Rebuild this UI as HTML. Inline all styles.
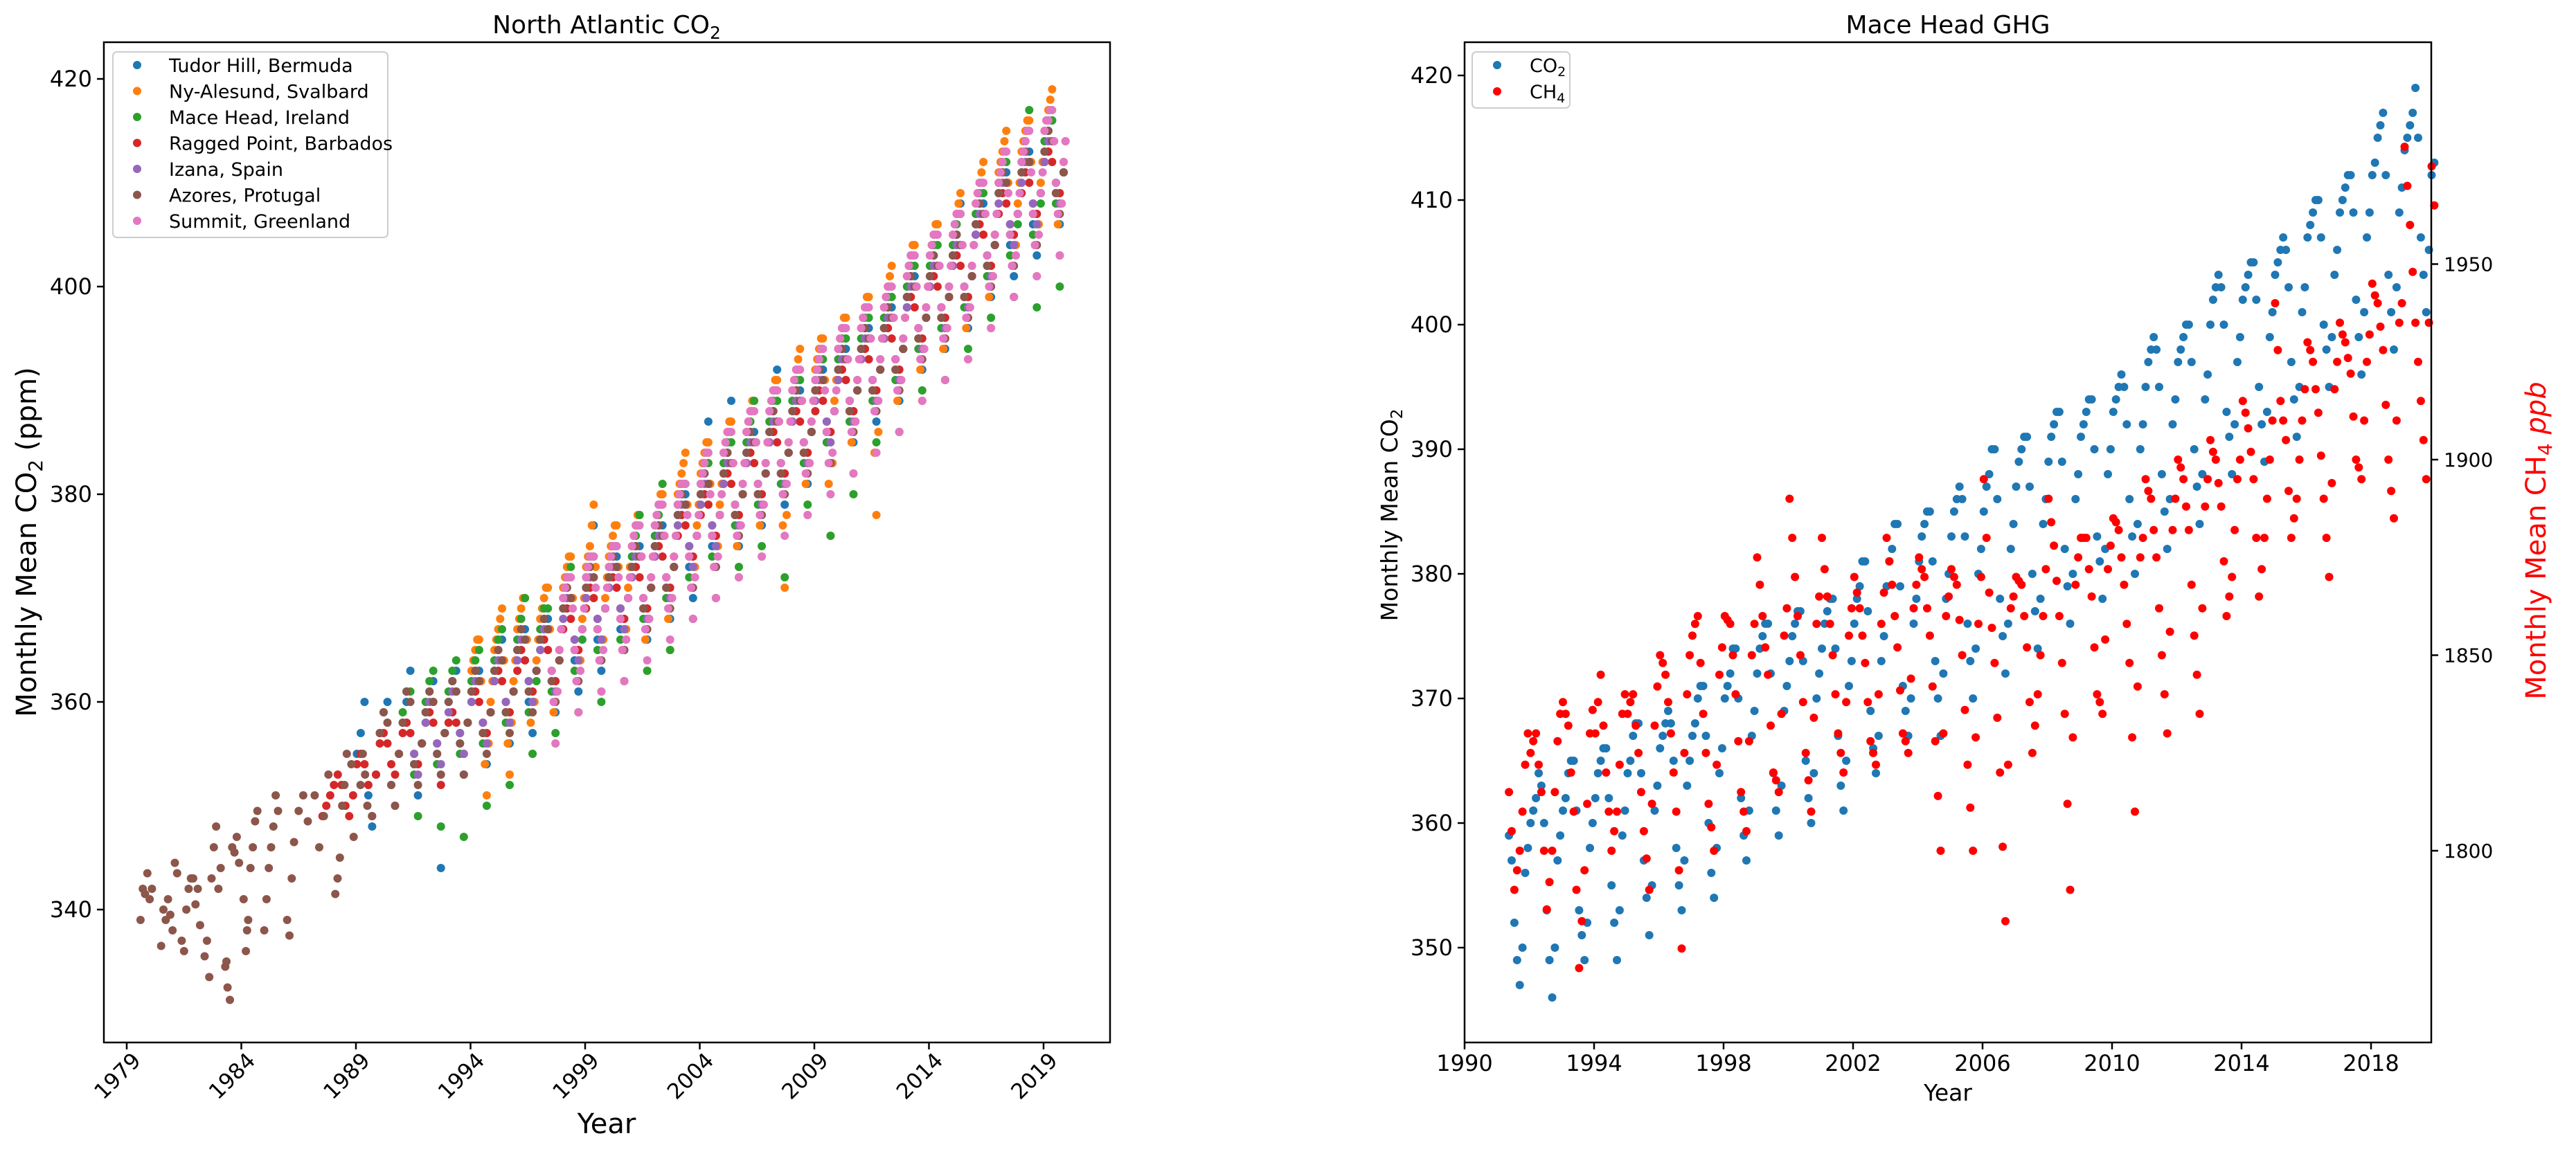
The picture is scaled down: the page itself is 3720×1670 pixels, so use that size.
<!DOCTYPE html>
<html><head><meta charset="utf-8"><style>
html,body{margin:0;padding:0;background:#fff;}
svg text{font-family:"DejaVu Sans","Liberation Sans",sans-serif;fill:#000;}
</style></head><body>
<svg id="fig" width="3720" height="1665" viewBox="0 0 3720 1665" xmlns="http://www.w3.org/2000/svg">
<rect x="0" y="0" width="3720" height="1665" fill="#fff"/>
<g id="left">
<text x="876" y="48" font-size="36" text-anchor="middle">North Atlantic CO<tspan font-size="25" dy="8">2</tspan></text>
<text transform="translate(52,783) rotate(-90)" font-size="40" text-anchor="middle">Monthly Mean CO<tspan font-size="28" dy="9">2</tspan><tspan dy="-9"> (ppm)</tspan></text>
<text x="876" y="1637" font-size="40" text-anchor="middle">Year</text>
<g id="leftDots"></g>
<g id="leftAxes"></g>
<g>
<rect x="163" y="75" width="397" height="268" rx="6" fill="#fff" fill-opacity="0.85" stroke="#ccc" stroke-width="2"/>
<g id="leftLegend"></g>
</g>
</g>
<g id="right">
<text x="2813" y="48" font-size="36" text-anchor="middle">Mace Head GHG</text>
<text transform="translate(2018,744) rotate(-90)" font-size="33" text-anchor="middle">Monthly Mean CO<tspan font-size="23" dy="7">2</tspan></text>
<text transform="translate(3676,781) rotate(-90)" font-size="40" text-anchor="middle" style="fill:#ff0000">Monthly Mean CH<tspan font-size="28" dy="9" style="fill:#ff0000">4</tspan><tspan dy="-9" style="fill:#ff0000"> </tspan><tspan font-style="italic" style="fill:#ff0000">ppb</tspan></text>
<text x="2813" y="1590" font-size="33" text-anchor="middle">Year</text>
<g id="rightDots"></g>
<g id="rightAxes"></g>
<g>
<rect x="2126" y="75" width="141" height="81" rx="6" fill="#fff" fill-opacity="0.85" stroke="#ccc" stroke-width="2"/>
<circle cx="2162" cy="94" r="6" fill="#1f77b4"/>
<text x="2209" y="104" font-size="27">CO<tspan font-size="19" dy="6">2</tspan></text>
<circle cx="2162" cy="132" r="6" fill="#ff0000"/>
<text x="2209" y="142" font-size="27">CH<tspan font-size="19" dy="6">4</tspan></text>
</g>
</g>
</svg>
<script>
// ---------- LEFT CHART DATA (bi-monthly values, 6 per year) ----------
const leftXTicks = [1979,1984,1989,1994,1999,2004,2009,2014,2019];
const leftYTicks = [340,360,380,400,420];
const siteNames = ["Tudor Hill, Bermuda","Ny-Alesund, Svalbard","Mace Head, Ireland","Ragged Point, Barbados","Izana, Spain","Azores, Protugal","Summit, Greenland"];
const siteColors = ["#1f77b4","#ff7f0e","#2ca02c","#d62728","#9467bd","#8c564b","#e377c2"];

const tudorStart = 1989;
const tudorVals = [355,357,360,351,348,353, 357,359,360,352,350,355, 358,360,363,354,351,356, 359,361,362,355,344,357, 360,362,363,356,353,358, 361,363,363,357,354,359, 363,365,366,359,356,361, 365,367,367,360,357,363, 366,368,368,362,359,364, 369,371,370,364,361,367, 371,373,377,366,363,369, 372,374,374,367,365,370, 373,375,375,369,366,371, 375,377,377,371,368,373, 378,380,380,373,370,376, 380,382,387,375,373,378, 382,384,389,378,375,380, 384,386,386,380,377,382, 386,388,392,382,379,384, 388,390,390,384,381,386, 390,392,392,385,383,388, 392,394,394,388,385,390, 394,396,396,390,387,392, 396,398,398,392,389,394, 399,401,401,395,392,397, 401,403,406,397,394,399, 403,405,408,399,396,401, 406,408,408,402,399,404, 409,411,411,404,401,407, 411,413,413,406,403,409, 413,415,416,409,406,411];

const nyStart = 1994;
const nyVals = [363,365,366,357,351,360, 365,367,369,359,353,362, 367,369,370,361,355,364, 368,370,371,362,356,365, 371,373,374,365,359,368, 373,375,379,367,361,370, 374,376,377,368,362,371, 375,377,378,369,363,372, 377,379,380,371,365,374, 380,382,384,374,368,377, 382,384,385,376,370,379, 384,386,387,378,372,381, 386,388,389,380,374,383, 388,390,391,382,371,385, 390,392,394,384,378,387, 392,394,395,386,376,389, 394,396,397,388,382,391, 396,398,399,390,378,393, 398,400,402,392,386,395, 401,403,404,395,389,398, 403,405,406,397,391,400, 405,407,409,399,393,402, 408,410,412,402,396,405, 411,413,415,405,399,408, 413,415,416,407,401,410, 415,417,419,409,403,412];
const nyVals2 = [364,366,362,354,356,362, 366,368,364,356,358,364, 368,370,366,358,360,366, 369,371,367,359,361,367, 372,374,370,362,364,370, 374,377,373,364,366,372, 375,377,373,365,367,373, 376,378,374,366,368,374, 378,380,376,368,370,376, 381,383,379,371,373,379, 383,385,381,373,375,381, 385,387,383,375,377,383, 387,389,385,377,379,385, 389,391,387,377,378,387, 391,393,389,381,383,389, 393,395,391,381,383,391, 395,397,393,385,387,393, 397,399,395,384,386,395, 399,401,397,389,391,397, 402,404,400,392,394,400, 404,406,402,394,396,402, 406,408,404,396,398,404, 409,411,407,399,401,407, 412,414,410,402,404,410, 414,416,412,404,406,412, 416,418,414,406,408,414];

const maceStart = 1991;
const maceVals = [359,361,361,353,349,356, 360,362,363,354,348,357, 361,363,364,355,347,358, 362,364,365,356,350,359, 364,366,367,358,352,361, 366,368,370,359,355,362, 367,369,369,361,357,364, 370,372,373,363,359,366, 372,374,374,365,360,369, 373,375,375,366,362,370, 374,376,378,368,363,371, 376,378,381,370,365,373, 379,381,381,372,368,376, 381,383,383,374,370,378, 383,385,385,377,373,380, 385,387,389,379,375,382, 387,389,389,381,372,384, 389,391,391,383,379,386, 391,393,393,385,376,388, 393,395,395,387,380,390, 395,397,397,389,385,392, 397,399,399,391,386,394, 400,402,402,394,390,397, 402,404,404,396,391,399, 404,406,407,398,394,401, 407,409,409,401,397,404, 410,412,412,403,399,406, 412,414,417,405,398,408, 414,416,416,408,400,411];

const raggedStart = 1987.5;
const raggedVals = [349,350,351, 352,353,352,350,349,351, 354,355,354,352,349,353, 356,357,356,354,353,355, 357,358,357,355,354,356, 358,359,358,356,352,357, 358,359,358,357,355,358, 360,361,360,358,357,359, 362,363,362,360,359,361, 363,365,364,362,361,363, 365,366,365,363,362,364, 367,369,368,366,365,367, 369,371,370,368,366,369, 371,372,371,369,368,370, 372,373,372,370,369,371, 374,375,374,372,371,373, 376,378,377,375,374,376, 378,380,379,377,376,378, 381,382,381,379,378,380, 383,384,383,381,380,382, 385,386,385,383,382,384, 387,388,387,385,384,386, 388,390,389,387,386,388, 391,392,391,389,388,390, 393,394,393,391,390,392, 395,396,395,393,392,394, 398,399,398,396,395,397, 400,401,400,398,397,399, 402,403,402,400,399,401, 405,406,405,403,402,404, 407,409,408,406,405,407, 409,411,410,408,407,409, 412,413,412,410,409,411];

const izanaStart = 1991.5;
const izanaVals = [355,353,356, 358,360,360,356,354,357, 359,361,361,357,355,358, 360,362,362,358,356,359, 362,364,364,360,358,361, 364,366,366,362,360,363, 365,367,367,363,361,364, 368,370,370,366,364,367, 370,372,372,368,366,369, 371,373,373,369,367,370, 372,374,374,370,368,371, 374,376,376,372,370,373, 377,379,379,375,373,376, 379,381,381,377,375,378, 381,383,383,379,377,380, 383,385,385,381,379,382, 385,387,387,383,381,384, 387,389,389,385,383,386, 389,391,391,387,385,388, 391,393,393,389,387,390, 393,395,395,391,389,392, 395,397,397,393,391,394, 398,400,400,396,394,397, 400,402,402,398,396,399, 402,404,404,400,398,401, 405,407,407,403,401,404, 408,410,410,406,404,407, 410,412,412,408,406,409, 412,414,414,410,408,411];

const azoresEarlyYears = [1979.6,1979.7,1979.8,1979.9,1980.0,1980.1,1980.5,1980.6,1980.7,1980.8,1980.9,1981.0,1981.1,1981.2,1981.4,1981.5,1981.6,1981.7,1981.8,1981.9,1982.0,1982.1,1982.2,1982.4,1982.5,1982.6,1982.7,1982.8,1982.9,1983.0,1983.1,1983.3,1983.35,1983.4,1983.5,1983.6,1983.7,1983.8,1983.9,1984.1,1984.2,1984.25,1984.3,1984.4,1984.5,1984.6,1984.7,1985.0,1985.1,1985.2,1985.3,1985.4,1985.5,1985.6,1986.0,1986.1,1986.2,1986.3,1986.5,1986.7,1986.9,1987.2,1987.4,1987.6,1987.8,1988.1,1988.2,1988.3,1988.4,1988.5,1988.6,1988.8,1988.9,1989.2,1989.3,1989.4,1989.5,1989.7];
const azoresEarlyVals = [339,342,341.5,343.5,341,342,336.5,340,339,341,339.5,338,344.5,343.5,337,336,340,342,343,343,340.5,342,338.5,335.5,337,333.5,343,346,348,342,344,334.5,335,332.5,331.3,346,345.5,347,344.5,341,336,338,339,344,346,348.5,349.5,338,341,344,346,348,351,349.5,339,337.5,343,346.5,349.5,351,348.5,351,346,349,353,341.5,343,345,350,352,355,354,347,352,355,353,350,349];
const azoresStart = 1990;
const azoresVals = [357,359,358,352,350,355, 358,361,360,354,352,356, 359,361,360,355,353,357, 360,362,361,356,353,358, 361,363,362,357,355,359, 363,365,364,359,357,361, 365,367,366,361,359,363, 366,368,367,362,360,364, 369,371,370,365,362,367, 371,373,372,367,364,369, 372,374,373,368,365,370, 373,375,374,369,367,371, 375,377,376,371,369,373, 378,380,379,374,371,376, 380,382,381,376,373,378, 382,384,383,378,376,380, 384,386,385,380,378,382, 386,388,387,382,380,384, 388,390,389,384,382,386, 390,392,391,386,383,388, 392,394,393,388,386,390, 394,396,395,390,388,392, 396,398,397,392,390,394, 399,401,400,395,393,397, 401,403,402,397,395,399, 403,405,404,399,397,401, 406,408,407,402,400,404, 409,411,410,405,402,407, 411,413,412,407,404,409, 413,415,414,409,407,411];

const summitStart = 1997.5;
const summitVals = [363,356,365, 370,372,372,365,359,367, 372,374,374,367,361,369, 373,375,375,368,362,370, 375,377,377,370,364,372, 377,379,379,372,366,374, 379,381,381,374,368,376, 381,383,384,376,370,378, 384,386,386,379,372,381, 386,388,388,381,374,383, 388,390,390,383,376,385, 390,392,392,385,378,387, 391,393,394,386,380,388, 394,396,396,389,382,391, 396,398,398,391,384,393, 398,400,400,393,386,395, 401,403,403,396,389,398, 403,405,405,398,391,400, 405,407,407,400,393,402, 408,410,410,403,396,405, 410,412,413,405,399,407, 412,414,415,407,401,409, 415,416,417,410,403,412];
const summitVals2 = [360,361,367, 371,372,369,362,363,369, 373,374,371,364,365,371, 374,375,372,365,366,372, 376,377,374,367,368,374, 378,379,376,369,370,376, 380,381,378,371,372,378, 382,384,380,373,374,380, 385,386,383,376,377,383, 387,388,385,378,379,385, 389,390,387,380,381,387, 391,392,389,382,383,389, 392,394,390,383,384,390, 395,396,393,386,387,393, 397,398,395,388,389,395, 399,400,397,390,391,397, 402,403,400,393,394,400, 404,405,402,395,396,402, 406,407,404,397,398,404, 409,410,407,400,401,407, 411,413,409,402,403,409, 413,415,411,404,405,411, 416,417,414,407,408,414];

// ---------- RIGHT CHART DATA ----------
const rightXTicks = [1990,1994,1998,2002,2006,2010,2014,2018];
const rightCO2Ticks = [350,360,370,380,390,400,410,420];
const rightCH4Ticks = [1800,1850,1900,1950];
const mhStart = 1991.33;
const mhCO2Vals = [359,352,347,356, 360,362,363,353,346,357, 361,364,365,353,349,358, 362,365,366,355,349,359, 364,367,368,357,351,361, 366,368,368,358,353,363, 367,370,371,360,354,364, 370,372,374,362,357,367, 372,375,376,364,359,369, 373,376,377,365,360,370, 374,377,378,367,361,371, 376,379,381,369,364,373, 379,382,384,371,367,376, 381,384,385,373,367,378, 383,386,386,376,370,380, 385,388,390,378,372,382, 387,390,391,380,374,384, 389,392,393,382,376,386, 391,393,394,383,378,388, 393,395,395,386,380,390, 395,398,398,388,382,392, 397,399,400,390,384,394, 400,403,403,393,388,397, 402,404,405,395,389,399, 404,406,406,397,391,401, 407,409,410,400,395,404, 409,411,412,402,396,407, 412,415,417,404,398,409, 414,416,419,407,401,412];
const mhCO2Vals2 = [357,349,350,358, 361,364,360,349,350,359, 362,365,361,351,352,360, 364,366,362,352,353,361, 365,368,364,354,355,363, 367,369,365,355,357,365, 368,371,367,356,358,366, 371,374,370,359,361,369, 374,376,372,361,363,371, 375,377,373,362,364,372, 376,378,374,363,365,373, 378,381,377,366,367,375, 381,384,379,369,370,378, 383,385,381,370,372,380, 385,387,383,373,374,382, 387,390,386,375,376,384, 389,391,387,377,378,386, 391,393,389,379,380,388, 392,394,390,381,382,390, 394,396,392,383,384,392, 397,399,395,385,386,394, 398,400,397,387,388,396, 402,404,400,391,392,399, 403,405,402,392,393,401, 405,407,403,394,395,403, 408,410,407,398,399,406, 410,412,409,399,401,409, 413,416,412,401,403,411, 415,417,415,404,406,413];
const mhCH4Vals = [1815,1790,1800,1822, 1825,1830,1815,1785,1800,1828, 1838,1832,1810,1770,1795,1830, 1830,1845,1820,1800,1810,1835, 1835,1840,1825,1805,1790,1832, 1850,1845,1830,1810,1775,1840, 1855,1860,1835,1812,1800,1845, 1860,1858,1840,1815,1805,1850, 1875,1860,1845,1820,1815,1855, 1890,1870,1850,1825,1810,1858, 1880,1865,1850,1830,1820,1855, 1870,1862,1848,1828,1822,1858, 1880,1868,1852,1830,1825,1862, 1875,1870,1855,1828,1800,1860, 1872,1868,1850,1822,1800,1858, 1895,1866,1848,1820,1782,1862, 1870,1868,1852,1825,1840,1860, 1890,1878,1860,1835,1790,1868, 1880,1880,1865,1840,1835,1872, 1885,1882,1868,1848,1810,1875, 1895,1890,1875,1850,1830,1882, 1900,1895,1882,1855,1835,1888, 1905,1900,1888,1860,1870,1895, 1915,1908,1895,1865,1880,1900, 1940,1915,1905,1880,1890,1910, 1930,1925,1912,1890,1870,1918, 1935,1930,1922,1900,1895,1925, 1945,1940,1928,1900,1885,1935, 1980,1960,1935,1915,1895,1975];
const mhCH4Vals2 = [1805,1795,1810,1830, 1828,1822,1800,1792,1815,1835, 1835,1820,1790,1782,1812,1836, 1838,1832,1810,1805,1822,1840, 1838,1832,1815,1798,1812,1842, 1848,1838,1820,1795,1825,1850, 1858,1848,1825,1806,1822,1852, 1859,1850,1828,1810,1828,1858, 1868,1852,1832,1818,1835,1862, 1880,1860,1838,1818,1834,1865, 1872,1858,1840,1825,1838,1862, 1866,1855,1838,1825,1840,1866, 1874,1860,1841,1828,1844,1868, 1872,1862,1842,1814,1830,1865, 1870,1859,1836,1811,1829,1870, 1880,1857,1834,1801,1822,1865, 1869,1860,1838,1832,1850,1872, 1884,1869,1848,1812,1829,1875, 1880,1872,1852,1838,1854,1878, 1884,1875,1858,1829,1842,1880, 1892,1882,1862,1840,1856,1890, 1898,1888,1868,1845,1862,1895, 1902,1894,1874,1865,1882,1900, 1912,1902,1880,1872,1890,1910, 1928,1910,1892,1885,1900,1918, 1928,1918,1901,1880,1894,1925, 1932,1926,1911,1898,1910,1932, 1942,1934,1914,1892,1910,1940, 1970,1948,1925,1905,1935,1965];

// ---------- SCALES ----------
const NS = "http://www.w3.org/2000/svg";
function xL(yr){ return 183 + (yr - 1979) * 33.1; }
function yL(v){ return 1314 - (v - 340) * 15; }
function xR(yr){ return 2115 + (yr - 1990) * 46.75; }
function yR(v){ return 1369 - (v - 350) * 18; }
function yC(v){ return 1229 - (v - 1800) * 5.65; }
function mk(tag, attrs, parent){ const e=document.createElementNS(NS,tag); for(const k in attrs) e.setAttribute(k,attrs[k]); parent.appendChild(e); return e; }

function drawSeries(g, start, vals, color, xf, yf, name, off){
  const o = off || 0;
  vals.forEach((v,i)=>{
    const t = start + i/6 + 1/24 + o;
    const c = mk('circle',{cx:xf(t).toFixed(1),cy:yf(v).toFixed(1),r:6,fill:color},g);
    
    
  });
}

// ---------- LEFT DOTS ----------
const lg = document.getElementById('leftDots');
drawSeries(lg, tudorStart, tudorVals, siteColors[0], xL, yL, 'tudor-hill-point');
drawSeries(lg, nyStart, nyVals, siteColors[1], xL, yL, 'ny-alesund-point');
drawSeries(lg, nyStart, nyVals2, siteColors[1], xL, yL, 'ny-alesund-point', 1/12);
drawSeries(lg, maceStart, maceVals, siteColors[2], xL, yL, 'mace-head-point');
drawSeries(lg, raggedStart, raggedVals, siteColors[3], xL, yL, 'ragged-point-point');
drawSeries(lg, izanaStart, izanaVals, siteColors[4], xL, yL, 'izana-point');
azoresEarlyYears.forEach((yr,i)=>{
  const c = mk('circle',{cx:xL(yr).toFixed(1),cy:yL(azoresEarlyVals[i]).toFixed(1),r:6,fill:siteColors[5]},lg);
  
  
});
drawSeries(lg, azoresStart, azoresVals, siteColors[5], xL, yL, 'azores-point');
drawSeries(lg, summitStart, summitVals, siteColors[6], xL, yL, 'summit-point');
drawSeries(lg, summitStart, summitVals2, siteColors[6], xL, yL, 'summit-point', 1/12);

// ---------- LEFT AXES ----------
const la = document.getElementById('leftAxes');
mk('rect',{x:150,y:61,width:1453,height:1445,fill:'none',stroke:'#000','stroke-width':2.5},la);
leftXTicks.forEach(t=>{
  const x = xL(t);
  mk('line',{x1:x,y1:1506,x2:x,y2:1516,stroke:'#000','stroke-width':2.5},la);
  const tx = mk('text',{x:0,y:0,'font-size':31,'text-anchor':'middle',transform:`translate(${x-6},${1562}) rotate(-45)`},la);
  tx.textContent = t;
  
  
});
leftYTicks.forEach(t=>{
  const y = yL(t);
  mk('line',{x1:140,y1:y,x2:150,y2:y,stroke:'#000','stroke-width':2.5},la);
  const tx = mk('text',{x:133,y:y+11,'font-size':32,'text-anchor':'end'},la);
  tx.textContent = t;
  
  
});

// ---------- LEFT LEGEND ----------
const ll = document.getElementById('leftLegend');
siteNames.forEach((n,i)=>{
  const y = 94 + i*37.5;
  mk('circle',{cx:198,cy:y,r:6,fill:siteColors[i]},ll);
  const tx = mk('text',{x:244,y:y+10,'font-size':27},ll);
  tx.textContent = n;
  
  
});

// ---------- RIGHT DOTS ----------
const rg = document.getElementById('rightDots');
drawSeries(rg, mhStart, mhCO2Vals, '#1f77b4', xR, yR, 'co2-point');
drawSeries(rg, mhStart, mhCO2Vals2, '#1f77b4', xR, yR, 'co2-point', 1/12);
drawSeries(rg, mhStart, mhCH4Vals, '#ff0000', xR, yC, 'ch4-point');
drawSeries(rg, mhStart, mhCH4Vals2, '#ff0000', xR, yC, 'ch4-point', 1/12);

// ---------- RIGHT AXES ----------
const ra = document.getElementById('rightAxes');
mk('rect',{x:2115,y:61,width:1396,height:1445,fill:'none',stroke:'#000','stroke-width':2.5},ra);
rightXTicks.forEach(t=>{
  const x = xR(t);
  mk('line',{x1:x,y1:1506,x2:x,y2:1516,stroke:'#000','stroke-width':2.5},ra);
  const tx = mk('text',{x:x,y:1547,'font-size':32,'text-anchor':'middle'},ra);
  tx.textContent = t;
  
  
});
rightCO2Ticks.forEach(t=>{
  const y = yR(t);
  mk('line',{x1:2105,y1:y,x2:2115,y2:y,stroke:'#000','stroke-width':2.5},ra);
  const tx = mk('text',{x:2098,y:y+11,'font-size':32,'text-anchor':'end'},ra);
  tx.textContent = t;
  
  
});
rightCH4Ticks.forEach(t=>{
  const y = yC(t);
  mk('line',{x1:3511,y1:y,x2:3521,y2:y,stroke:'#000','stroke-width':2.5},ra);
  const tx = mk('text',{x:3529,y:y+10,'font-size':28},ra);
  tx.textContent = t;
  
  
});
</script>
</body></html>
